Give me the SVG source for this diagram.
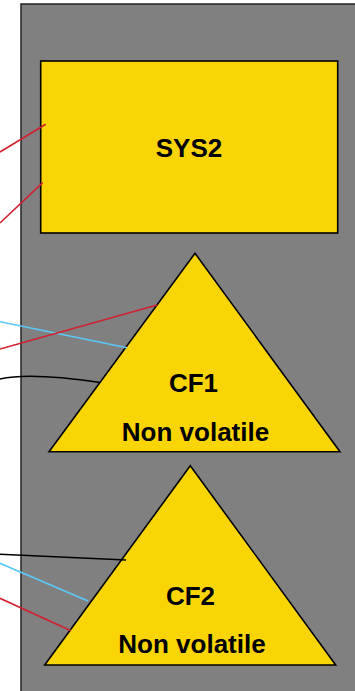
<svg xmlns="http://www.w3.org/2000/svg" width="355" height="691" viewBox="0 0 355 691">
<style>
.node{fill:#FAD505;stroke:#000;stroke-width:1.6}
.lbl{font-family:"Liberation Sans",Arial,sans-serif;font-weight:bold;font-size:26px;fill:#000;text-anchor:middle}
.c{fill:none;stroke-width:1.6}
.red{stroke:#D2202E}
.blue{stroke:#5CC8F5}
.blk{stroke:#000}
</style>
<rect width="355" height="691" fill="#fff"/>
<g id="container">
<rect x="21" y="4" width="340" height="700" fill="#808080" stroke="#222" stroke-width="1.5"/>
</g>
<g id="SYS2">
<rect class="node" x="40.7" y="61" width="297" height="172"/>
<text class="lbl" x="189" y="157">SYS2</text>
</g>
<g id="CF1">
<polygon class="node" points="195,253.3 340,451.7 49,451.7"/>
<text class="lbl" x="193.5" y="392">CF1</text>
<text class="lbl" x="195.5" y="441">Non volatile</text>
</g>
<g id="CF2">
<polygon class="node" points="190.3,465.7 335.7,665 44.7,665"/>
<text class="lbl" x="190.5" y="605">CF2</text>
<text class="lbl" x="192" y="653">Non volatile</text>
</g>
<g id="connectors">
<line class="c red" x1="0" y1="152" x2="45.7" y2="124.3"/>
<line class="c red" x1="0" y1="223" x2="42.7" y2="182.7"/>
<line class="c blue" x1="0" y1="321.7" x2="127" y2="347.7"/>
<line class="c red" x1="0" y1="349" x2="157" y2="305"/>
<path class="c blk" d="M0,379 Q30,372 100,382.5"/>
<line class="c blk" x1="0" y1="554.3" x2="126" y2="560"/>
<line class="c blue" x1="0" y1="563.3" x2="88" y2="601"/>
<line class="c red" x1="0" y1="598.3" x2="71" y2="630.7"/>
</g>
</svg>
